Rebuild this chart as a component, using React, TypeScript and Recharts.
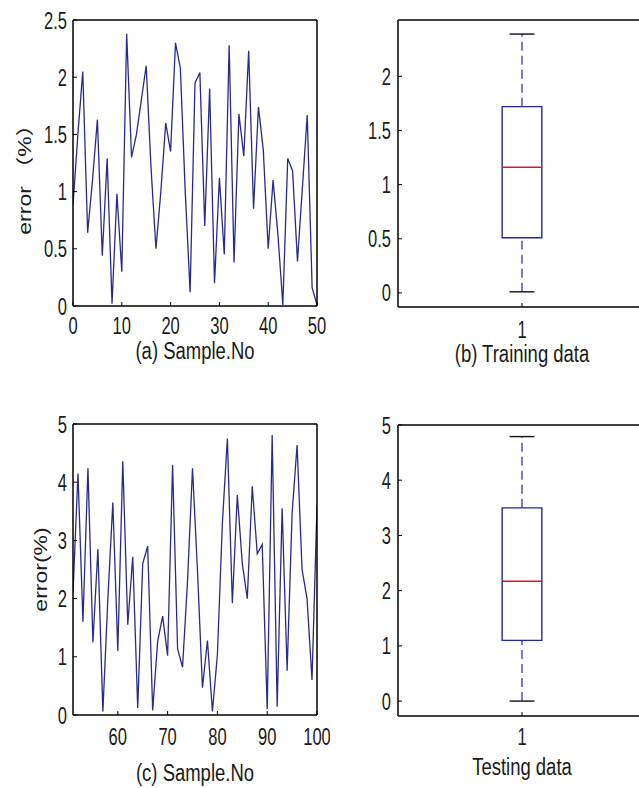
import React from 'react'
import { LineChart, Line, ComposedChart, XAxis, YAxis, ReferenceArea, ReferenceLine } from 'recharts'

// (a) training error per sample
const trainSamples = [0, 1, 2, 3, 4, 5, 6, 7, 8, 9, 10, 11, 12, 13, 14, 15, 16, 17, 18, 19, 20, 21, 22, 23, 24, 25, 26, 27, 28, 29, 30, 31, 32, 33, 34, 35, 36, 37, 38, 39, 40, 41, 42, 43, 44, 45, 46, 47, 48, 49, 50]
const trainError = [0.88, 1.5, 2.05, 0.64, 1.1, 1.63, 0.44, 1.29, 0.02, 0.98, 0.3, 2.38, 1.3, 1.5, 1.8, 2.1, 1.2, 0.5, 1.0, 1.6, 1.35, 2.3, 2.08, 1.0, 0.12, 1.95, 2.04, 0.7, 1.9, 0.2, 1.12, 0.45, 2.28, 0.38, 1.68, 1.31, 2.23, 0.85, 1.74, 1.36, 0.5, 1.1, 0.62, 0.01, 1.29, 1.18, 0.39, 1.03, 1.67, 0.16, 0.01]

// (c) testing error per sample
const testSamples = [51, 52, 53, 54, 55, 56, 57, 58, 59, 60, 61, 62, 63, 64, 65, 66, 67, 68, 69, 70, 71, 72, 73, 74, 75, 76, 77, 78, 79, 80, 81, 82, 83, 84, 85, 86, 87, 88, 89, 90, 91, 92, 93, 94, 95, 96, 97, 98, 99, 100]
const testError = [2.1, 4.15, 1.6, 4.24, 1.25, 2.85, 0.06, 2.0, 3.65, 1.1, 4.36, 1.55, 2.72, 0.12, 2.6, 2.9, 0.08, 1.26, 1.7, 1.02, 4.3, 1.14, 0.82, 2.3, 4.24, 2.48, 0.47, 1.28, 0.06, 1.04, 3.3, 4.75, 1.92, 3.78, 2.6, 2.0, 3.93, 2.77, 2.93, 0.1, 4.81, 0.14, 3.55, 0.76, 3.46, 4.64, 2.5, 2.0, 0.6, 3.6]

// box summaries: [lower whisker, Q1, median, Q3, upper whisker]
const trainBox = [0.01, 0.51, 1.16, 1.72, 2.39]
const testBox = [0.0, 1.1, 2.17, 3.5, 4.79]
const groups = [1]

const trainXTicks = [0, 10, 20, 30, 40, 50]
const trainYTicks = [0, 0.5, 1, 1.5, 2, 2.5]
const testXTicks = [60, 70, 80, 90, 100]
const testYTicks = [0, 1, 2, 3, 4, 5]
const trainBoxTicks = [0, 0.5, 1, 1.5, 2]
const testBoxTicks = [0, 1, 2, 3, 4, 5]

const FONT = "'Liberation Sans', Arial, 'Noto Sans CJK SC', sans-serif"
const SQ_TICK = 0.69 // source figure is squeezed horizontally
const SQ_TEXT = 0.77
const LINE = '#2a2a8c'
const BOX = '#2626a2'
const MED = '#e01419'
const INK = '#111'
const BOX_HALF = 0.08
const CAP_HALF = 0.05

const axisLine = { stroke: '#000', strokeWidth: 1.5 }
const tickLine = { stroke: '#000', strokeWidth: 1 }

function Tick(props: any) {
  const { x, y, payload, textAnchor, verticalAnchor } = props
  const dy = verticalAnchor === 'start' ? '0.71em' : verticalAnchor === 'end' ? '0' : '0.355em'
  return (
    <text x={x} y={y} dy={dy} textAnchor={textAnchor} fill="#1a1a1a" fontSize={24} fontFamily={FONT}
      transform={`translate(${x} 0) scale(${SQ_TICK} 1) translate(${-x} 0)`}>
      {payload.value}
    </text>
  )
}

function Caption({ viewBox, text, dy }: any) {
  const vb = viewBox || { x: 0, y: 0, width: 0 }
  const cx = vb.x + vb.width / 2
  const cy = vb.y + dy
  return (
    <text x={cx} y={cy} textAnchor="middle" dominantBaseline="central" fill="#1a1a1a" fontSize={24} fontFamily={FONT}
      transform={`translate(${cx} 0) scale(${SQ_TEXT} 1) translate(${-cx} 0)`}>
      {text}
    </text>
  )
}

function SideLabel({ viewBox, text, dx, dy }: any) {
  const vb = viewBox || { x: 0, y: 0, height: 0 }
  const cx = vb.x + dx
  const cy = vb.y + vb.height / 2 + dy
  return (
    <text x={0} y={0} textAnchor="middle" dominantBaseline="central" fill="#1a1a1a" fontSize={23} fontFamily={FONT}
      transform={`translate(${cx} ${cy}) scale(${SQ_TEXT} 1) rotate(-90)`}>
      {text}
    </text>
  )
}

function SeriesPanel({ samples, errors, xDomain, xTicks, yDomain, yTicks, height, xAxisHeight, tickGap, caption, captionDy, ylabel, ylabelX, ylabelDy }: any) {
  const data = samples.map((s: number, i: number) => ({ sample: s, error: errors[i] }))
  return (
    <LineChart width={330} height={height} data={data} margin={{ top: 19, right: 12, bottom: 0, left: 0 }}>
      <XAxis xAxisId="top" orientation="top" type="number" dataKey="sample" domain={xDomain} ticks={xTicks}
        height={1} tick={false} tickSize={-4} axisLine={axisLine} tickLine={tickLine} allowDataOverflow />
      <XAxis type="number" dataKey="sample" domain={xDomain} ticks={xTicks} height={xAxisHeight}
        tick={<Tick />} tickSize={-4} tickMargin={tickGap} axisLine={axisLine} tickLine={tickLine} allowDataOverflow
        label={<Caption text={caption} dy={captionDy} />} />
      <YAxis type="number" domain={yDomain} ticks={yTicks} width={73} tick={<Tick />} tickSize={-4} tickMargin={10}
        axisLine={axisLine} tickLine={tickLine} allowDataOverflow
        label={<SideLabel text={ylabel} dx={ylabelX} dy={ylabelDy} />} />
      <YAxis yAxisId="right" orientation="right" type="number" domain={yDomain} ticks={yTicks} width={1}
        tick={false} tickSize={-4} axisLine={axisLine} tickLine={tickLine} allowDataOverflow />
      <Line type="linear" dataKey="error" stroke={LINE} strokeWidth={1.3} dot={false} isAnimationActive={false} />
    </LineChart>
  )
}

function BoxPanel({ stats, yDomain, yTicks, height, xAxisHeight, tickGap, caption, captionDy }: any) {
  const [lo, q1, med, q3, hi] = stats
  const g = groups[0]
  const data = groups.map(grp => ({ group: grp }))
  return (
    <ComposedChart width={340} height={height} data={data} margin={{ top: 19, right: 18, bottom: 0, left: 0 }}>
      <XAxis xAxisId="top" orientation="top" type="number" dataKey="group" domain={[0.5, 1.5]} ticks={groups}
        height={1} tick={false} tickSize={-4} axisLine={axisLine} tickLine={tickLine} allowDataOverflow />
      <XAxis type="number" dataKey="group" domain={[0.5, 1.5]} ticks={groups} height={xAxisHeight}
        tick={<Tick />} tickSize={-4} tickMargin={tickGap} axisLine={axisLine} tickLine={tickLine} allowDataOverflow
        label={<Caption text={caption} dy={captionDy} />} />
      <YAxis type="number" domain={yDomain} ticks={yTicks} width={73} tick={<Tick />} tickSize={-4} tickMargin={11}
        axisLine={axisLine} tickLine={tickLine} allowDataOverflow />
      <YAxis yAxisId="right" orientation="right" type="number" domain={yDomain} ticks={yTicks} width={1}
        tick={false} tickSize={-4} axisLine={axisLine} tickLine={tickLine} allowDataOverflow />
      <ReferenceLine segment={[{ x: g, y: q3 }, { x: g, y: hi }]} stroke={BOX} strokeWidth={1.2} strokeDasharray="9 5" />
      <ReferenceLine segment={[{ x: g, y: lo }, { x: g, y: q1 }]} stroke={BOX} strokeWidth={1.2} strokeDasharray="9 5" />
      <ReferenceArea x1={g - BOX_HALF} x2={g + BOX_HALF} y1={q1} y2={q3} fill="#fff" fillOpacity={1} stroke={BOX} strokeWidth={1.4} />
      <ReferenceLine segment={[{ x: g - BOX_HALF, y: med }, { x: g + BOX_HALF, y: med }]} stroke={MED} strokeWidth={1.4} />
      <ReferenceLine segment={[{ x: g - CAP_HALF, y: hi }, { x: g + CAP_HALF, y: hi }]} stroke={INK} strokeWidth={1.4} />
      <ReferenceLine segment={[{ x: g - CAP_HALF, y: lo }, { x: g + CAP_HALF, y: lo }]} stroke={INK} strokeWidth={1.4} />
    </ComposedChart>
  )
}

export default function App() {
  return (
    <div style={{ position: 'absolute', left: 0, top: 0, width: 639, height: 788, overflow: 'hidden', background: '#fff' }}>
      <div style={{ position: 'absolute', left: 0, top: 0 }}>
        <SeriesPanel samples={trainSamples} errors={trainError} xDomain={[0, 50]} xTicks={trainXTicks}
          yDomain={[0, 2.5]} yTicks={trainYTicks} height={380} xAxisHeight={74} tickGap={15}
          caption="(a) Sample.No" captionDy={45} ylabel="error （%）" ylabelX={25} ylabelDy={11} />
      </div>
      <div style={{ position: 'absolute', left: 325, top: 0 }}>
        <BoxPanel stats={trainBox} yDomain={[-0.13, 2.52]} yTicks={trainBoxTicks} height={380} xAxisHeight={73}
          tickGap={18} caption="(b) Training data" captionDy={47} />
      </div>
      <div style={{ position: 'absolute', left: 0, top: 404 }}>
        <SeriesPanel samples={testSamples} errors={testError} xDomain={[51, 100]} xTicks={testXTicks}
          yDomain={[0, 5]} yTicks={testYTicks} height={384} xAxisHeight={73} tickGap={17}
          caption="(c) Sample.No" captionDy={58} ylabel="error(%)" ylabelX={41} ylabelDy={0} />
      </div>
      <div style={{ position: 'absolute', left: 325, top: 405 }}>
        <BoxPanel stats={testBox} yDomain={[-0.27, 5]} yTicks={testBoxTicks} height={383} xAxisHeight={72}
          tickGap={16} caption="Testing data" captionDy={51} />
      </div>
    </div>
  )
}
